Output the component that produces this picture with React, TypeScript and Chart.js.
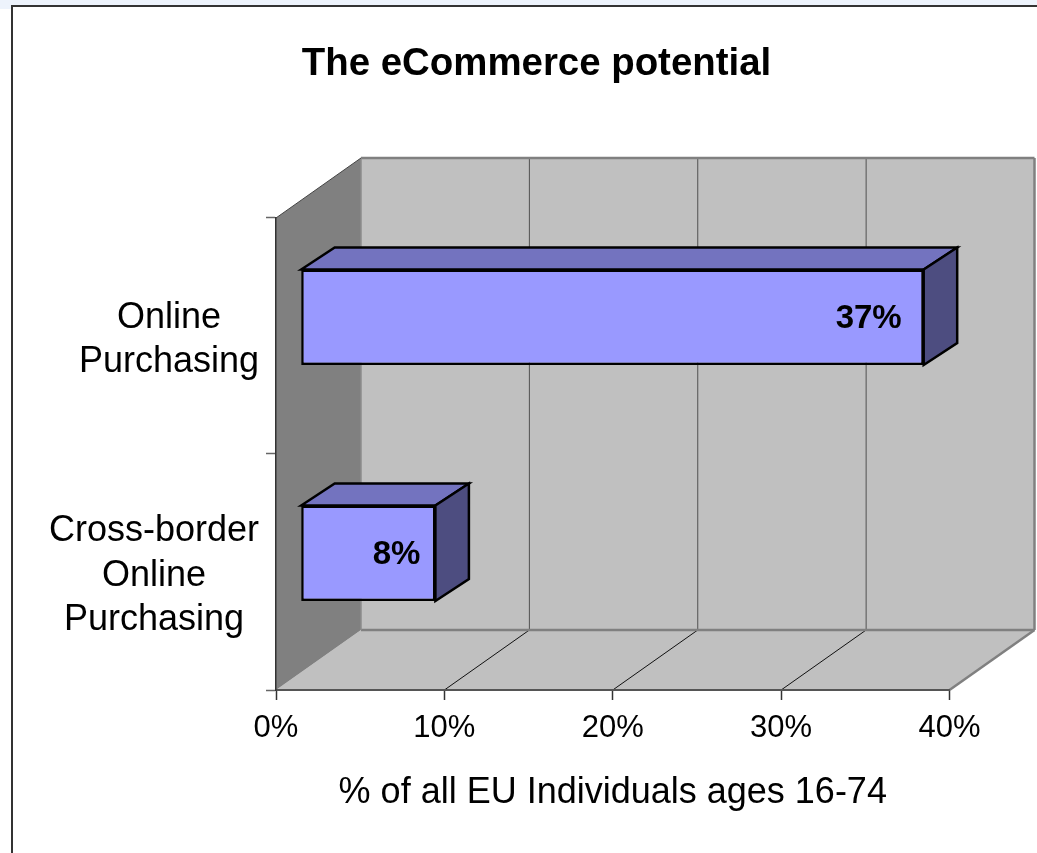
import React, { useEffect, useRef } from "react";
import { Chart, registerables } from "chart.js";

Chart.register(...registerables);

const categories: string[][] = [["Online", "Purchasing"], ["Cross-border", "Online", "Purchasing"]];
const shares: number[] = [37, 8];
const chartTitle = "The eCommerce potential";
const axisTitle = "% of all EU Individuals ages 16-74";

const FONT = "'Liberation Sans', Arial, sans-serif";
const WALL = { dx: 85, dy: -60 };
const BAR_SHIFT = { dx: 24.7, dy: -18.75 };
const BAR_DEPTH = { dx: 33.5, dy: -22 };
const LABEL_INSET = [22, 15];

const poly = (ctx: CanvasRenderingContext2D, pts: number[][], fill?: string, stroke?: string, lw = 1) => {
  ctx.beginPath();
  pts.forEach((p, i) => (i ? ctx.lineTo(p[0], p[1]) : ctx.moveTo(p[0], p[1])));
  ctx.closePath();
  if (fill) { ctx.fillStyle = fill; ctx.fill(); }
  if (stroke) { ctx.strokeStyle = stroke; ctx.lineWidth = lw; ctx.lineJoin = "miter"; ctx.stroke(); }
};
const seg = (ctx: CanvasRenderingContext2D, x1: number, y1: number, x2: number, y2: number, c: string, lw: number) => {
  ctx.beginPath(); ctx.moveTo(x1, y1); ctx.lineTo(x2, y2); ctx.strokeStyle = c; ctx.lineWidth = lw; ctx.stroke();
};

const scene = {
  id: "scene",
  beforeDraw(chart: any) {
    const { ctx, chartArea: a, scales } = chart;
    const { left: L, right: R, top: T, bottom: B } = a;
    const { dx, dy } = WALL;
    ctx.save();
    poly(ctx, [[L + dx, T + dy], [R + dx, T + dy], [R + dx, B + dy], [L + dx, B + dy]], "#c0c0c0");
    poly(ctx, [[L, B], [L + dx, B + dy], [R + dx, B + dy], [R, B]], "#c0c0c0");
    poly(ctx, [[L, T], [L + dx, T + dy], [L + dx, B + dy], [L, B]], "#808080");
    scales.x.ticks.forEach((t: any, i: number) => {
      const x = scales.x.getPixelForTick(i);
      if (t.value > 0 && t.value < 40) {
        seg(ctx, x + dx, T + dy, x + dx, B + dy, "#505050", 1);
        seg(ctx, x, B, x + dx, B + dy, "#111", 1);
      }
    });
    seg(ctx, L + dx, T + dy, R + dx, T + dy, "#808080", 2.5);
    seg(ctx, R + dx, T + dy, R + dx, B + dy, "#808080", 2.5);
    seg(ctx, L + dx, B + dy, R + dx, B + dy, "#808080", 2.5);
    seg(ctx, L + dx, T + dy, L + dx, B + dy, "#8c8c8c", 1.5);
    seg(ctx, R, B, R + dx, B + dy, "#808080", 2.5);
    seg(ctx, L, T, L + dx, T + dy, "#444", 1);
    ctx.restore();
  },
  beforeDatasetsDraw(chart: any) {
    chart.ctx.save();
    chart.ctx.translate(BAR_SHIFT.dx, BAR_SHIFT.dy);
  },
  afterDatasetsDraw(chart: any) {
    const { ctx } = chart;
    const { dx, dy } = BAR_DEPTH;
    chart.getDatasetMeta(0).data.forEach((bar: any, i: number) => {
      const { x, y, base, height } = bar.getProps(["x", "y", "base", "height"], true);
      const t = y - height / 2;
      const b = y + height / 2;
      poly(ctx, [[base, t], [base + dx, t + dy], [x + dx, t + dy], [x, t]], "#7373bf", "#000", 2.5);
      poly(ctx, [[x, t], [x + dx, t + dy], [x + dx, b + dy], [x, b]], "#4d4d80", "#000", 2.5);
      ctx.fillStyle = "#000";
      ctx.font = `bold 33px ${FONT}`;
      ctx.textAlign = "right";
      ctx.textBaseline = "middle";
      ctx.fillText(`${shares[i]}%`, x - LABEL_INSET[i], y + 1.5);
    });
    ctx.restore();
    // multi-line category labels: block right-aligned, lines centred in the block
    const yScale = chart.scales.y;
    ctx.save();
    ctx.fillStyle = "#000";
    ctx.font = `36px ${FONT}`;
    ctx.textBaseline = "middle";
    ctx.textAlign = "center";
    categories.forEach((lines, i) => {
      const w = Math.max(...lines.map((l) => ctx.measureText(l).width));
      const cx = 259 - w / 2;
      const cy = yScale.getPixelForTick(i);
      lines.forEach((l, k) => ctx.fillText(l, cx, cy + 4 + (k - (lines.length - 1) / 2) * 44.5));
    });
    ctx.restore();
  },
};

export default function App() {
  const ref = useRef<HTMLCanvasElement>(null);
  useEffect(() => {
    document.body.style.margin = "0";
    const chart = new Chart(ref.current!, {
      type: "bar",
      data: {
        labels: categories,
        datasets: [{
          data: shares,
          backgroundColor: "#9999ff",
          borderColor: "#000",
          borderWidth: 2.5,
          borderSkipped: false,
          barPercentage: 0.405,
          categoryPercentage: 1,
        }],
      },
      options: {
        indexAxis: "y",
        responsive: false,
        animation: false,
        devicePixelRatio: 1,
        layout: { padding: { left: 123.5, right: 87.5, top: 0, bottom: 0 } },
        plugins: {
          legend: { display: false },
          tooltip: { enabled: false },
          title: {
            display: true,
            text: chartTitle,
            color: "#000",
            font: { family: FONT, size: 38.4, weight: "bold", lineHeight: 1.2 },
            padding: { top: 41, bottom: 130.9 },
          },
        },
        scales: {
          x: {
            min: 0,
            max: 40,
            afterFit: (s: any) => { s.height = 163; },
            ticks: {
              stepSize: 10,
              autoSkip: false,
              maxRotation: 0,
              padding: 10,
              color: "#000",
              font: { family: FONT, size: 31 },
              callback: (v: any) => `${v}%`,
            },
            grid: { drawOnChartArea: false, tickLength: 10, color: "#333", tickWidth: 1.5 },
            border: { color: "#555", width: 2 },
            title: {
              display: true,
              text: axisTitle,
              color: "#000",
              font: { family: FONT, size: 36, lineHeight: 1.2 },
              padding: { top: 0, bottom: 38 },
            },
          },
          y: {
            afterFit: (s: any) => { s.width = 152.5; },
            ticks: { display: false },
            grid: { drawOnChartArea: false, tickLength: 10, color: "#666", tickWidth: 1.5 },
            border: { color: "#333", width: 1.5 },
          },
        },
      },
      plugins: [scene],
    } as any);
    return () => chart.destroy();
  }, []);
  return (
    <div style={{ position: "absolute", left: 0, top: 0, width: 1037, height: 853, overflow: "hidden", background: "#fff" }}>
      <div style={{ position: "absolute", left: 0, top: 0, width: 1037, height: 9, background: "#edf3fc" }} />
      <div style={{ position: "absolute", left: 11, top: 5, width: 1040, height: 860, background: "#fff", border: "2px solid #333", boxSizing: "border-box" }} />
      <canvas ref={ref} width={1037} height={853} style={{ position: "absolute", left: 0, top: 0, width: 1037, height: 853 }} />
    </div>
  );
}
